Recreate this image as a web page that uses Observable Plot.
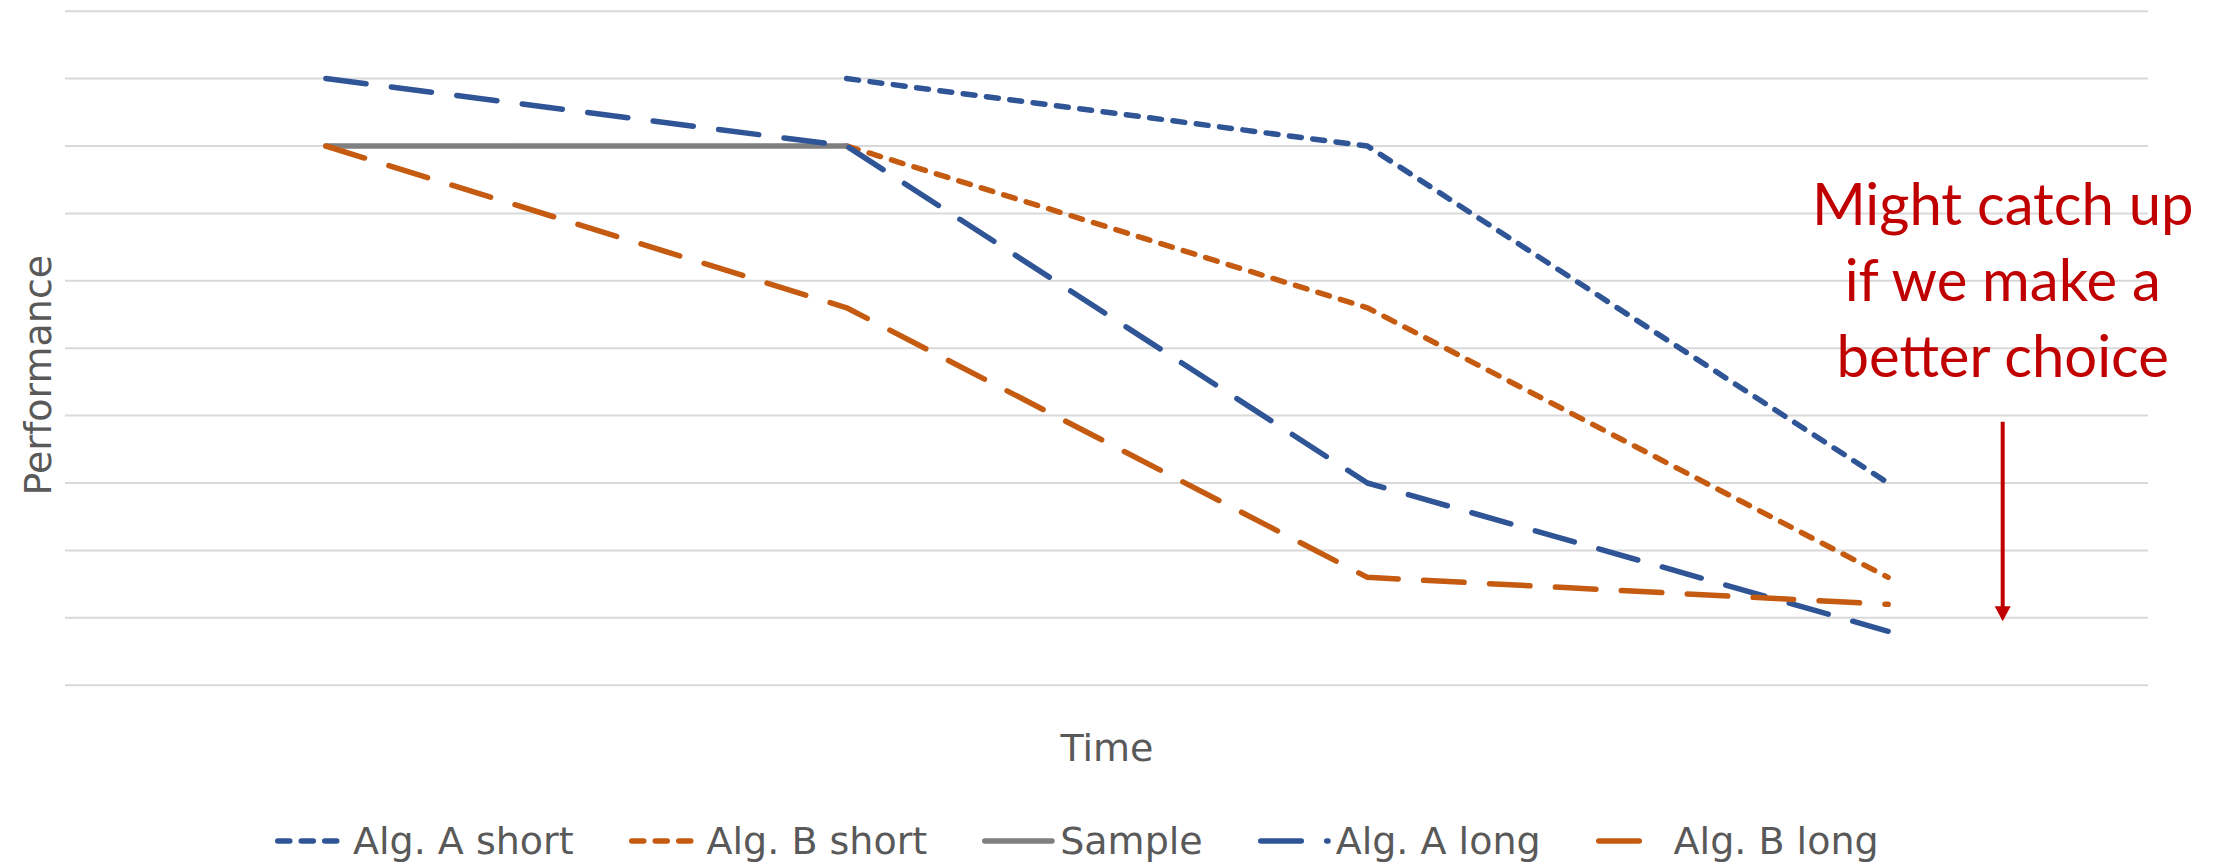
<!DOCTYPE html>
<html>
<head>
<meta charset="utf-8">
<script src="https://cdn.jsdelivr.net/npm/d3@7"></script>
<script src="https://cdn.jsdelivr.net/npm/@observablehq/plot@0.6"></script>
<style>
  html, body { margin: 0; padding: 0; background: #fff; overflow: hidden; }
  #chart svg { display: block; }
  #legend {
    display: flex; align-items: center; box-sizing: border-box;
    height: 68px; padding-top: 13px; padding-bottom: 0; padding-left: 275px; gap: 55px;
    font-family: "DejaVu Sans", sans-serif; font-size: 38px; color: #595959;
  }
  #legend .item { display: flex; align-items: center; white-space: nowrap; }
  #legend svg { display: block; }
</style>
</head>
<body>
<div id="chart"></div>
<div id="legend"></div>
<script>
// ---- data ----
const times = [1, 2, 3, 4];
const seriesNames = ["Alg. A short", "Alg. B short", "Sample", "Alg. A long", "Alg. B long"];
const algAShort = [null, 9, 8, 3];
const algBShort = [null, 8, 5.6, 1.6];
const sample    = [8, 8, null, null];
const algALong  = [9, 8, 3, 0.8];
const algBLong  = [8, 5.6, 1.6, 1.2];
const seriesValues = [algAShort, algBShort, sample, algALong, algBLong];
const gridValues = [0, 1, 2, 3, 4, 5, 6, 7, 8, 9, 10];
const xLabel = "Time";
const yLabel = "Performance";
const noteLines = ["Might catch up", "if we make a", "better choice"];
const note = {x: 4.22, y: 4.57, text: noteLines.join("\n")};
const arrow = {x: 4.22, from: 3.9, to: 0.95};

// ---- styles ----
const BLUE = "#2F5597", ORANGE = "#C55A11", GRAY = "#7F7F7F", RED = "#C00000";
const SHORT = "12,11.5", LONG = "40.5,25.5";
const seriesStyles = [
  {stroke: BLUE, dash: SHORT, swatchEnd: 70},
  {stroke: ORANGE, dash: SHORT, swatchEnd: 70},
  {stroke: GRAY, dash: null, swatchEnd: 70},
  {stroke: BLUE, dash: LONG, swatchEnd: 70},
  {stroke: ORANGE, dash: LONG, swatchEnd: 66}
];
const LW = 5.5;

const rows = [];
seriesNames.forEach((name, i) => {
  times.forEach((t, j) => {
    const v = seriesValues[i][j];
    if (v != null) rows.push({series: name, time: t, value: v});
  });
});

const triangleDown = {
  draw(context, size) {
    const r = Math.sqrt(size / Math.PI);
    context.moveTo(-r, -1.85 * r);
    context.lineTo(r, -1.85 * r);
    context.lineTo(0, 0);
    context.closePath();
  }
};

const lineMarks = seriesNames.map((name, i) => Plot.line(rows.filter(r => r.series === name), {
  x: "time", y: "value",
  stroke: seriesStyles[i].stroke,
  strokeWidth: LW,
  strokeDasharray: seriesStyles[i].dash || undefined,
  strokeLinecap: "round",
  strokeLinejoin: "round"
}));

const chart = Plot.plot({
  width: 2221,
  height: 800,
  marginLeft: 65,
  marginRight: 73,
  marginTop: 10.7,
  marginBottom: 115.3,
  style: {background: "white", fontFamily: "DejaVu Sans"},
  x: {domain: [0.5, 4.5], axis: null},
  y: {domain: [0, 10], axis: null},
  marks: [
    Plot.ruleY(gridValues, {y: d => d, stroke: "#D9D9D9", strokeWidth: 2}),
    ...lineMarks,
    Plot.ruleX([arrow], {x: "x", y1: "from", y2: "to", stroke: RED, strokeWidth: 4, insetBottom: 8}),
    Plot.dot([arrow], {x: "x", y: "to", r: 8, symbol: triangleDown, fill: RED, stroke: "none"}),
    Plot.text([note], {x: "x", y: "y", text: "text", lineAnchor: "bottom", lineHeight: 1.31,
      textAnchor: "middle", fontFamily: "Lato", fontSize: 58, fill: RED}),
    Plot.text([xLabel], {text: d => d, frameAnchor: "bottom", dy: 76, lineAnchor: "bottom",
      textAnchor: "middle", fontFamily: "DejaVu Sans", fontSize: 38, fill: "#595959"}),
    Plot.text([yLabel], {text: d => d, frameAnchor: "left", rotate: -90, dx: -15, dy: 27,
      lineAnchor: "bottom", textAnchor: "middle", fontFamily: "DejaVu Sans", fontSize: 38, fill: "#595959"})
  ]
});
document.getElementById("chart").appendChild(chart);

// ---- legend ----
const legend = d3.select("#legend");
seriesNames.forEach((name, i) => {
  const item = legend.append("div").attr("class", "item");
  const svg = item.append("svg").attr("width", 78).attr("height", 12);
  svg.append("line")
    .attr("x1", LW / 2).attr("x2", seriesStyles[i].swatchEnd).attr("y1", 6).attr("y2", 6)
    .attr("stroke", seriesStyles[i].stroke)
    .attr("stroke-width", LW)
    .attr("stroke-linecap", "round")
    .attr("stroke-dasharray", seriesStyles[i].dash);
  item.append("span").text(name);
});
</script>
</body>
</html>
